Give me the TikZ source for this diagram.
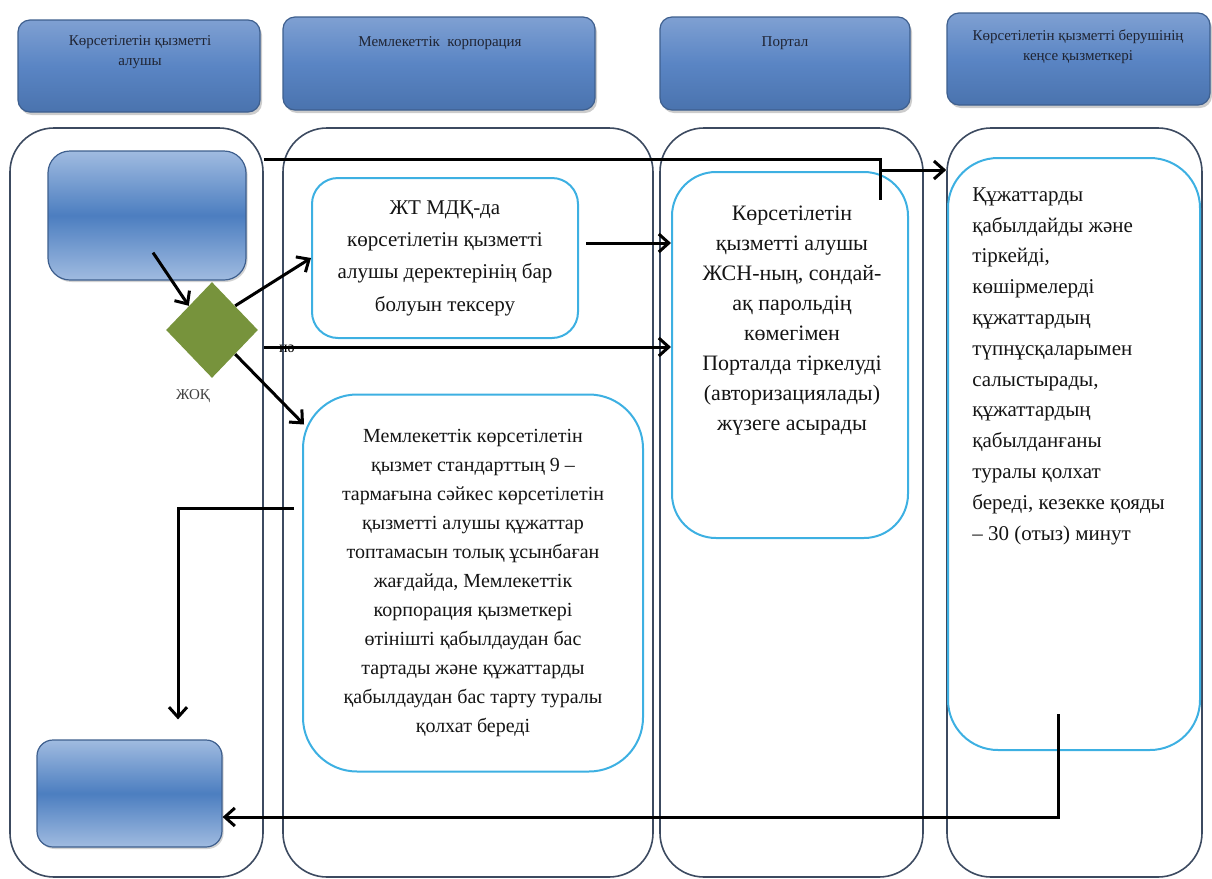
\documentclass[tikz,border=0pt]{standalone}
\usepackage{fontspec}
\setmainfont{Liberation Serif}
\usetikzlibrary{arrows.meta,shapes.geometric,shadows,calc}
\definecolor{laneC}{HTML}{3C4A60}
\definecolor{hdrT}{HTML}{7FA0D2}
\definecolor{hdrM}{HTML}{5A85C4}
\definecolor{hdrBt}{HTML}{4A73AE}
\definecolor{hdrB}{HTML}{3E5F8E}
\definecolor{boxL}{HTML}{A0BBE0}
\definecolor{boxM}{HTML}{4C7EC0}
\definecolor{cyanB}{HTML}{3DB0E2}
\definecolor{dGreen}{HTML}{77933C}
\definecolor{txtC}{HTML}{141414}
\definecolor{hdrTxt}{HTML}{1F2433}
\begin{document}
\begin{tikzpicture}[x=0.5pt,y=-0.5pt,
  lane/.style={draw=laneC, line width=0.8pt, rounded corners=22pt, inner sep=0pt},
  header/.style={draw=hdrB, line width=0.6pt, rounded corners=6pt, inner sep=0pt,
     top color=hdrT, bottom color=hdrBt, middle color=hdrM,
     drop shadow={shadow xshift=1pt, shadow yshift=-1.5pt, fill=black!40}},
  bluebox/.style={draw=hdrB, line width=0.6pt, inner sep=0pt,
     top color=boxL, bottom color=boxL, middle color=boxM,
     drop shadow={shadow xshift=0.8pt, shadow yshift=-1pt, fill=black!35}},
  cyanbox/.style={draw=cyanB, line width=1pt, inner sep=0pt, align=center, text=txtC},
  htext/.style={font=\fontsize{7.5}{10}\selectfont, text=hdrTxt, align=center, inner sep=0pt},
  arr/.style={line width=1.5pt, -{Straight Barb[length=5pt,width=9pt]}},
  plain/.style={line width=1.5pt}
]
\useasboundingbox (0,0) rectangle (1212,879);

% lanes
\node[lane, minimum width=126.5pt, minimum height=374.5pt] (L1) at (136.5,502.5) {};
\node[lane, minimum width=185pt, minimum height=374.5pt] (L2) at (468,502.5) {};
\node[lane, minimum width=131.5pt, minimum height=374.5pt] (L3) at (791.5,502.5) {};
\node[lane, minimum width=127.5pt, minimum height=374.5pt] (L4) at (1074.5,502.5) {};

% headers
\node[header, minimum width=121pt, minimum height=46pt] (h1) at (139,66) {};
\node[header, minimum width=156pt, minimum height=46.5pt] (h2) at (439,63.5) {};
\node[header, minimum width=125pt, minimum height=46.5pt] (h3) at (785,63.5) {};
\node[header, minimum width=131.5pt, minimum height=46pt] (h4) at (1078.5,59) {};
\node[htext] (h1t) at (140,52.5) {Көрсетілетін қызметті\\алушы};
\node[htext] (h2t) at (440,43) {Мемлекеттік\ \ корпорация};
\node[htext] (h3t) at (785,43) {Портал};
\node[htext] (h4t) at (1078,47) {Көрсетілетін қызметті берушінің\\кеңсе қызметкері};

% lane 1 elements
\node[bluebox, rounded corners=11pt, minimum width=99pt, minimum height=64.5pt] (S) at (147,215.5) {};
\node[bluebox, rounded corners=8pt, minimum width=92.5pt, minimum height=53.5pt] (E) at (129.5,793.5) {};
\node[diamond, fill=dGreen, minimum width=46pt, minimum height=48pt, inner sep=0pt] (Dm) at (212,330) {};
\node[font=\fontsize{7.5}{7.5}\selectfont, text=black!75] (no) at (193,396) {ЖОҚ};

% lane 2 boxes
\node[cyanbox, rounded corners=13pt, minimum width=133pt, minimum height=80pt,
      font=\fontsize{10.5}{16.2}\selectfont] (A) at (445,258)
  {ЖТ МДҚ-да\\көрсетілетін қызметті\\алушы деректерінің бар\\болуын тексеру};
\node[cyanbox, rounded corners=27pt, minimum width=170pt, minimum height=188.5pt,
      font=\fontsize{10}{14.5}\selectfont] (B) at (473,583)
  {Мемлекеттік көрсетілетін\\қызмет стандарттың 9 –\\тармағына сәйкес көрсетілетін\\қызметті алушы құжаттар\\топтамасын толық ұсынбаған\\жағдайда, Мемлекеттік\\корпорация қызметкері\\өтінішті қабылдаудан бас\\тартады және құжаттарды\\қабылдаудан бас тарту туралы\\қолхат береді};

% lane 3 box
\node[cyanbox, rounded corners=22pt, minimum width=118pt, minimum height=183pt] (C) at (790,355) {};
\node[font=\fontsize{11}{15}\selectfont, align=center, text=txtC, inner sep=0pt] (Ct) at (792,321)
  {Көрсетілетін\\қызметті алушы\\ЖСН-ның, сондай-\\ақ парольдің\\көмегімен\\Порталда тіркелуді\\(авторизациялады)\\жүзеге асырады};

% lane 4 box
\node[cyanbox, rounded corners=25pt, minimum width=126pt, minimum height=296pt] (Dx) at (1074,454) {};
\node[font=\fontsize{10.5}{15.4}\selectfont, align=left, text=txtC, inner sep=0pt, anchor=west] (Dt) at (972,366)
  {Құжаттарды\\қабылдайды және\\тіркейді,\\көшірмелерді\\құжаттардың\\түпнұсқаларымен\\салыстырады,\\құжаттардың\\қабылданғаны\\туралы қолхат\\береді, кезекке қояды\\– 30 (отыз) минут};

% connectors
\coordinate (k1) at (880,159);
\coordinate (k2) at (880,200);
\coordinate (k3) at (880,170);
\draw[plain] (L1.east |- k1) -- (k1) -- (k2);
\draw[arr] (k3) -- (L4.west |- k3);

\draw[arr] ($(S.south)+(6,-28)$) -- (Dm.north west);
\draw[arr] (Dm.north east) -- (A.west);
\draw[arr] (Dm.south east) -- ($(B.north west)+(2,31)$);

\coordinate (y1) at (0,347);
\draw[arr] (L1.east |- y1) -- (C.west |- y1);
\node[font=\fontsize{8}{8}\selectfont, text=black, inner sep=0pt, anchor=base] (yes) at (287,352) {иә};

\coordinate (a1) at ($(A.east)+(7,-15)$);
\draw[arr] (a1) -- (C.west |- a1);

\coordinate (b1) at ($(B.west)+(-8,-75)$);
\coordinate (e1) at ($(E.north)+(48.5,-20)$);
\draw[arr] (b1) -- (b1 -| e1) -- (e1);

\coordinate (d1) at ($(Dx.south)+(-16,-37)$);
\coordinate (d2) at (1058,817);
\draw[arr] (d1) -- (d2) -- (E.east |- d2);
\end{tikzpicture}
\end{document}
